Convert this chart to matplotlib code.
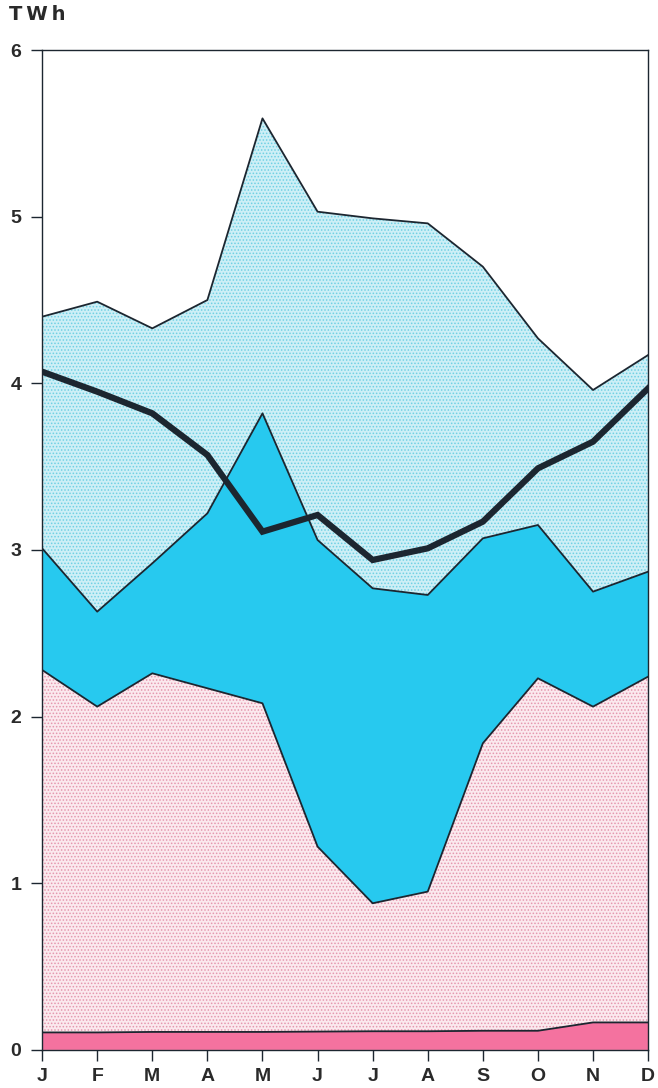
import numpy as np
import matplotlib.pyplot as plt

plt.rcParams['font.family'] = ['Liberation Sans', 'DejaVu Sans']
plt.rcParams['hatch.linewidth'] = 0.7

# month labels
months = ['J', 'F', 'M', 'A', 'M', 'J', 'J', 'A', 'S', 'O', 'N', 'D']

# upper edge of each band (TWh)
band_red = [0.105, 0.105, 0.108, 0.108, 0.108, 0.11, 0.112, 0.112, 0.115, 0.115, 0.165, 0.165]
band_pink = [2.28, 2.06, 2.26, 2.17, 2.08, 1.22, 0.88, 0.95, 1.84, 2.23, 2.06, 2.24]
band_cyan = [3.01, 2.63, 2.92, 3.22, 3.82, 3.06, 2.77, 2.73, 3.07, 3.15, 2.75, 2.87]
band_top = [4.40, 4.49, 4.33, 4.50, 5.59, 5.03, 4.99, 4.96, 4.70, 4.27, 3.96, 4.17]

# consumption line
demand = [4.07, 3.95, 3.82, 3.57, 3.11, 3.21, 2.94, 3.01, 3.17, 3.49, 3.65, 3.97]

x = np.arange(len(months))
dark = '#1c2630'
txt = '#2a2a2a'

fig = plt.figure(figsize=(6.58, 10.88), dpi=100)
ax = fig.add_axes([0.064, 0.035, 0.921, 0.919])

#light cyan dotted band
ax.fill_between(x, band_cyan, band_top, facecolor='#cdeff6', edgecolor='#6fd0e4',
                hatch='.....', linewidth=0, zorder=1)
#solid cyan band
ax.fill_between(x, band_pink, band_cyan, facecolor='#27c9ef', linewidth=0, zorder=2)
#light pink dotted band
ax.fill_between(x, band_red, band_pink, facecolor='#fbe9ee', edgecolor='#e597ae',
                hatch='.....', linewidth=0, zorder=1)
#pink bottom band
ax.fill_between(x, 0, band_red, facecolor='#f4729f', linewidth=0, zorder=2)

for edge in [band_red, band_pink, band_cyan, band_top]:
    ax.plot(x, edge, color=dark, lw=1.3, zorder=3)

ax.plot(x, demand, color=dark, lw=4.5, solid_joinstyle='miter', zorder=4)

ax.set_xlim(0, len(months) - 1)
ax.set_ylim(0, 6)
ax.set_xticks(x)
ax.set_xticklabels(months)
ax.set_yticks(range(7))
ax.tick_params(axis='both', direction='out', length=8, width=1, color=dark,
               labelsize=14, pad=5)
ax.tick_params(axis='y', pad=7)
for lab in ax.get_xticklabels() + ax.get_yticklabels():
    lab.set_fontweight('bold')
    lab.set_color(txt)
for s in ax.spines.values():
    s.set_color(dark)
    s.set_linewidth(1)

#unit label, letter-spaced like the print
fig.text(0.014, 0.987, 'T\u2009W\u2009h', fontsize=14, fontweight='bold', color=txt,
         va='center', ha='left', family=['DejaVu Sans'])

fig.savefig('out.png', dpi=100)
